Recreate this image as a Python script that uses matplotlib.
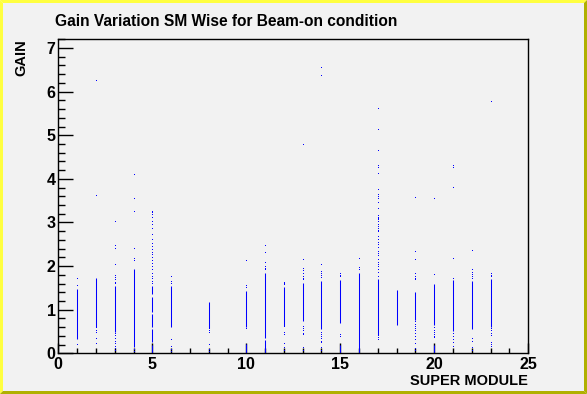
import matplotlib
matplotlib.use("Agg")
import matplotlib.pyplot as plt
from matplotlib.patches import Polygon
from matplotlib.ticker import MultipleLocator

plt.rcParams['font.family'] = ['Liberation Sans', 'DejaVu Sans']

title = "Gain Variation SM Wise for Beam-on condition"
x_label = "SUPER MODULE"
y_label = "GAIN"

# Dense clusters of points (drawn as continuous vertical runs): SM, low gain, high gain
seg_sm   = [0,    1,    2,    3,    4,    5,    5,    5,    5,    5,    6,    8,    10,   10,   11,   11,   12,   13,   14,   15,   15,   16,   17,   18,   19,   20,   20,   21,   22,   23]
seg_low  = [0.00, 0.32, 0.61, 0.48, 0.15, 0.00, 0.25, 0.60, 0.95, 1.35, 0.61, 0.57, 0.60, 0.00, 0.34, 0.00, 0.63, 0.73, 0.55, 0.69, 0.00, 0.00, 0.42, 0.65, 0.76, 0.65, 0.00, 0.52, 0.55, 0.61]
seg_high = [1.47, 1.48, 1.73, 1.54, 1.94, 0.20, 0.55, 0.90, 1.30, 1.55, 1.54, 1.18, 1.43, 0.21, 1.85, 0.30, 1.52, 1.61, 1.65, 1.67, 0.19, 1.84, 1.70, 1.45, 1.40, 1.60, 0.19, 1.68, 1.65, 1.71]

# Isolated points: SM and gain
pt_sm = (
    [1] * 3 +
    [2] * 7 +
    [3] * 17 +
    [4] * 8 +
    [5] * 24 +
    [6] * 7 +
    [8] * 6 +
    [10] * 4 +
    [11] * 6 +
    [12] * 9 +
    [13] * 15 +
    [14] * 15 +
    [15] * 5 +
    [16] * 3 +
    [17] * 40 +
    [19] * 18 +
    [20] * 8 +
    [21] * 10 +
    [22] * 10 +
    [23] * 11
)
pt_gain = (
    [1.70, 1.54, 0.19] +
    [6.24, 3.61, 0.57, 0.52, 0.47, 0.33, 0.21] +
    [3.01, 2.45, 2.40, 2.03, 1.77, 1.73, 1.68, 1.62, 1.58, 0.44, 0.40, 0.33, 0.27, 0.21, 0.15, 0.10, 0.05] +
    [4.09, 3.54, 3.24, 2.40, 2.16, 2.11, 0.08, 0.03] +
    [3.25, 3.21, 3.16, 3.10, 3.02, 2.94, 2.86, 2.72, 2.60, 2.50, 2.44, 2.38,
     2.31, 2.25, 2.18, 2.12, 2.05, 1.97, 1.90, 1.82, 1.76, 1.70, 1.64, 1.59] +
    [1.76, 1.64, 1.60, 0.31, 0.14, 0.08, 0.02] +
    [0.55, 0.51, 0.47, 0.18, 0.08, 0.03] +
    [2.12, 1.54, 1.49, 0.56] +
    [2.45, 2.31, 2.08, 1.97, 1.94, 1.91] +
    [1.62, 1.59, 1.56, 0.60, 0.47, 0.43, 0.21, 0.12, 0.05] +
    [4.78, 2.14, 1.94, 1.88, 1.82, 1.76, 1.71, 1.67, 0.60, 0.55, 0.50, 0.45, 0.41, 0.12, 0.05] +
    [6.55, 6.36, 2.03, 1.87, 1.82, 1.77, 1.72, 0.47, 0.42, 0.37, 0.32, 0.27, 0.23, 0.12, 0.05] +
    [1.82, 1.78, 1.74, 0.43, 0.38] +
    [2.16, 1.95, 1.91] +
    [5.60, 5.12, 4.64, 4.29, 4.25, 4.11, 3.75, 3.63, 3.59, 3.53, 3.45, 3.30,
     3.15, 3.11, 3.08, 3.05, 3.02, 2.94, 2.89, 2.85, 2.81, 2.77, 2.66, 2.60,
     2.54, 2.49, 2.41, 2.33, 2.28, 2.22, 2.14, 2.08, 2.03, 1.97, 1.91, 1.84,
     1.76, 0.31, 0.36, 0.39] +
    [3.56, 2.33, 2.14, 1.81, 1.76, 1.71, 1.67, 0.72, 0.66, 0.60, 0.55, 0.50,
     0.44, 0.38, 0.31, 0.21, 0.10, 0.05] +
    [3.53, 1.79, 0.57, 0.52, 0.47, 0.42, 0.38, 0.34] +
    [4.30, 4.26, 3.79, 2.16, 1.71, 0.44, 0.38, 0.30, 0.23, 0.15] +
    [2.34, 1.91, 1.84, 1.79, 1.74, 1.70, 0.32, 0.27, 0.12, 0.05] +
    [5.77, 1.81, 1.78, 1.75, 0.55, 0.50, 0.45, 0.40, 0.23, 0.19, 0.15]
)

W, H = 587, 394
bg = '#f2f2f2'
fig = plt.figure(figsize=(W / 100, H / 100), dpi=100, facecolor=bg)
ax = fig.add_axes([58.3 / W, 1 - 353.3 / H, 470 / W, 314 / H])
ax.set_facecolor(bg)

ax.vlines(seg_sm, seg_low, seg_high, colors='#0000ff', linewidth=0.75)
ax.plot(pt_sm, pt_gain, ',', color='#0000ff', linestyle='none')

ax.set_xlim(0, 25)
ax.set_ylim(0, 7.2)
ax.xaxis.set_major_locator(MultipleLocator(5))
ax.xaxis.set_minor_locator(MultipleLocator(1))
ax.yaxis.set_major_locator(MultipleLocator(1))
ax.yaxis.set_minor_locator(MultipleLocator(0.2))
ax.tick_params(axis='both', which='both', direction='in', top=False, right=False,
               width=1.0, colors='black')
ax.tick_params(axis='x', which='major', length=7.0, pad=3)
ax.tick_params(axis='x', which='minor', length=3.5)
ax.tick_params(axis='y', which='major', length=10.5, pad=2)
ax.tick_params(axis='y', which='minor', length=5.2)
for lab in ax.get_xticklabels() + ax.get_yticklabels():
    lab.set_fontweight('bold')
    lab.set_fontsize(11.5)
for s in ax.spines.values():
    s.set_linewidth(1.0)
    s.set_color('black')

ax.set_xlabel(x_label, fontsize=10.5, fontweight='bold', loc='right')
ax.xaxis.set_label_coords(1.0, -0.066)

fig.text(21 / W, 1 - 39 / H, y_label, rotation=90, fontsize=10.5, fontweight='bold',
         ha='center', va='top')

fig.text(55 / W, 1 - 14 / H, title, fontsize=11.2, fontweight='bold', ha='left', va='top')

# beveled canvas border
bx, by = 3 / W, 3 / H
light = '#ffff40'
dark = '#b0b000'
fig.add_artist(Polygon([(0, 1), (1, 1), (1 - bx, 1 - by), (bx, 1 - by)], closed=True,
                       transform=fig.transFigure, facecolor=light, edgecolor='none'))
fig.add_artist(Polygon([(0, 0), (0, 1), (bx, 1 - by), (bx, by)], closed=True,
                       transform=fig.transFigure, facecolor=light, edgecolor='none'))
fig.add_artist(Polygon([(0, 0), (1, 0), (1 - bx, by), (bx, by)], closed=True,
                       transform=fig.transFigure, facecolor=dark, edgecolor='none'))
fig.add_artist(Polygon([(1, 0), (1, 1), (1 - bx, 1 - by), (1 - bx, by)], closed=True,
                       transform=fig.transFigure, facecolor=dark, edgecolor='none'))

fig.savefig('out.png', dpi=100, facecolor=bg)
